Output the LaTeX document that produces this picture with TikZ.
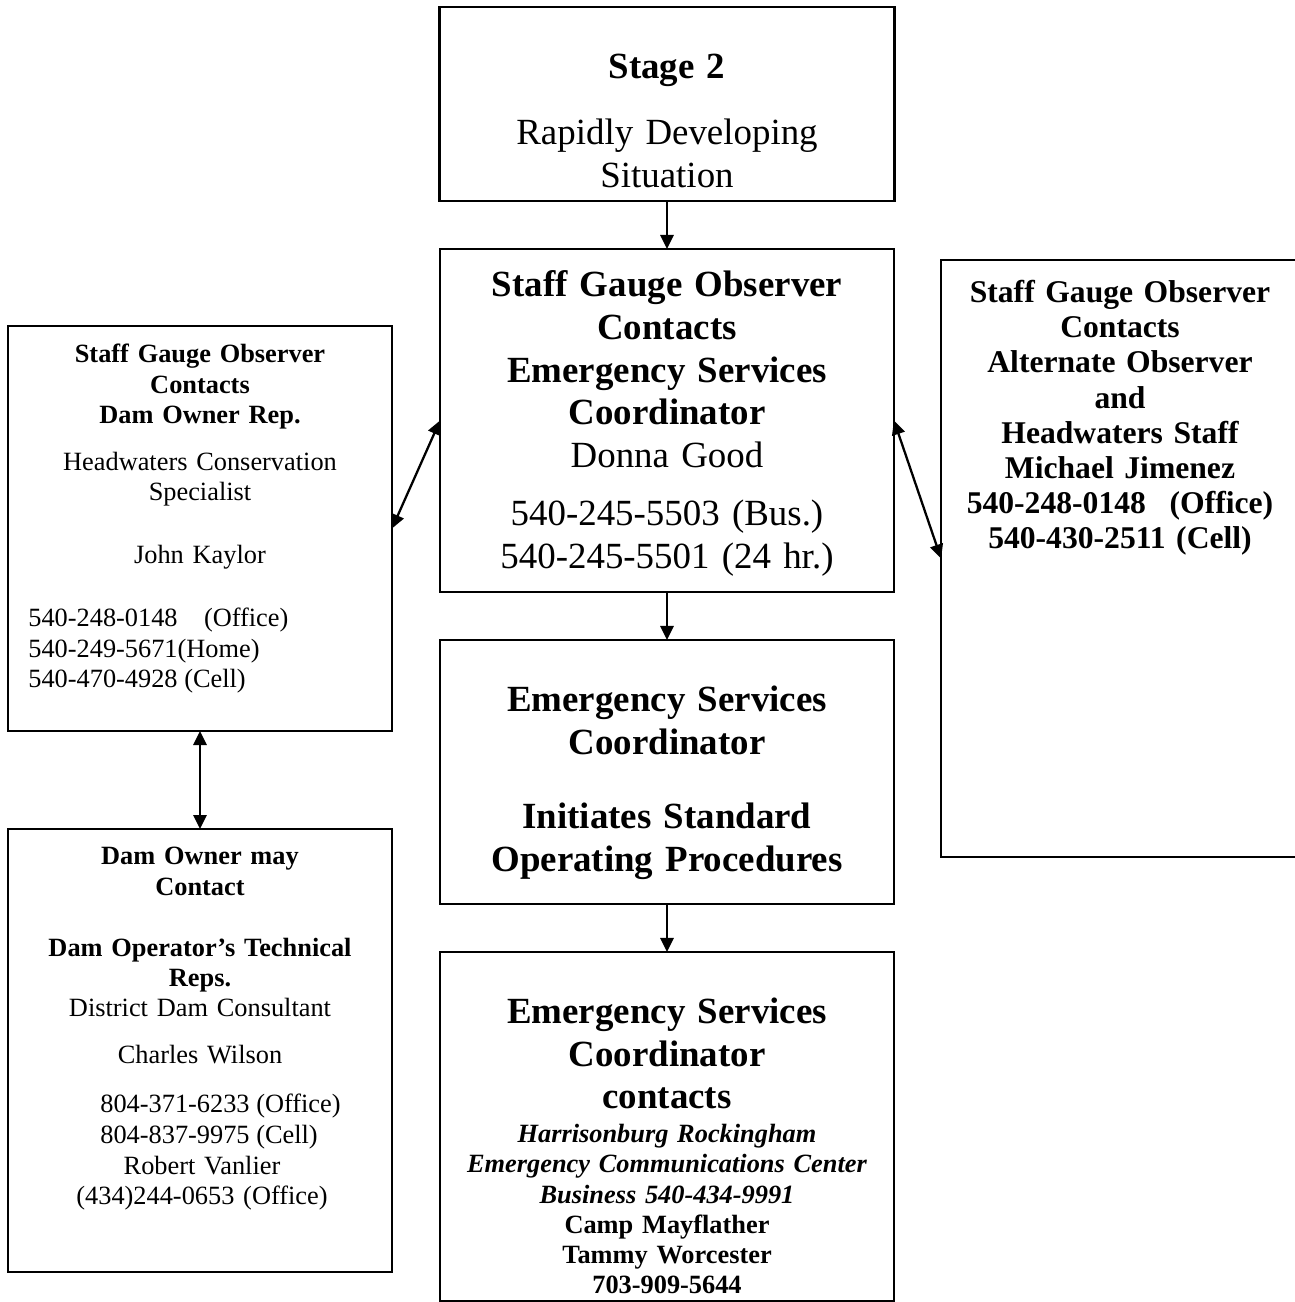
\documentclass[tikz,border=0pt]{standalone}
\usepackage{fontspec}
\setmainfont{Liberation Serif}
\usetikzlibrary{arrows.meta}

\begin{document}
\begin{tikzpicture}[x=0.02cm, y=-0.02cm]
  \tikzstyle{boite}=[draw, line width=1.4pt, inner sep=0pt, outer sep=0pt]
  \tikzstyle{grand}=[anchor=north, inner sep=0pt, align=center, text width=8.8cm,
  font=\fontsize{21}{24.4}\selectfont]
  \tikzstyle{petit}=[anchor=north, inner sep=0pt, align=center, text width=7.4cm,
  font=\fontsize{15}{17.2}\selectfont]
  \tikzstyle{fleche}=[-{Triangle[length=8pt,width=7.5pt]}, line width=1.3pt]
  \tikzstyle{dfleche}=[{Triangle[length=8pt,width=7.5pt]}-{Triangle[length=8pt,width=7.5pt]},
  line width=1.3pt]
  \useasboundingbox[fill=white] (0,0) rectangle (1295,1302);
  % les boites
  \node[boite, minimum width=9.10cm, minimum height=3.88cm] (stage) at (667,104) {};
  \node[boite, minimum width=9.08cm, minimum height=6.86cm] (sgo) at (667,420.5) {};
  \node[boite, minimum width=9.08cm, minimum height=5.28cm] (esc) at (667,772) {};
  \node[boite, minimum width=9.08cm, minimum height=6.98cm] (ecc) at (667,1126.5) {};
  \node[boite, minimum width=7.68cm, minimum height=8.10cm] (rep) at (200,528.5) {};
  \node[boite, minimum width=7.68cm, minimum height=8.86cm] (tech) at (200,1050.5) {};
  \node[boite, minimum width=7.16cm, minimum height=11.94cm] (alt) at (1120,558.5) {};
  % les textes
  \node[grand] (stage-t) at (667,54) {\bfseries Stage 2\\[13pt]
    \mdseries Rapidly Developing\\Situation};
  \node[grand] (sgo-t) at (667,270) {\bfseries Staff Gauge Observer\\Contacts\\
    Emergency Services\\Coordinator\\\mdseries Donna Good\\[8.5pt]
    540-245-5503 (Bus.)\\540-245-5501 (24 hr.)};
  \node[grand] (esc-t) at (667,686) {\bfseries Emergency Services\\Coordinator\\[17.5pt]
    Initiates Standard\\Operating Procedures};
  \node[grand, font=\fontsize{21}{24.1}\selectfont] (ecc-t) at (667,998)
    {\bfseries Emergency Services\\Coordinator\\contacts};
  \node[petit, text width=8.8cm] (ecc-l) at (667,1124) {\bfseries\itshape
    Harrisonburg Rockingham\\Emergency Communications Center\\Business 540-434-9991\\
    \upshape Camp Mayflather\\Tammy Worcester\\703-909-5644};
  \node[petit] (rep-t) at (200,344) {\bfseries Staff Gauge Observer\\Contacts\\
    Dam Owner Rep.\\[9.6pt]\mdseries Headwaters Conservation\\Specialist\\[18.7pt]
    John Kaylor};
  \node[petit, anchor=north west, align=left, text width=] (rep-n) at (28,608)
    {540-248-0148\quad(Office)\\540-249-5671(Home)\\540-470-4928 (Cell)};
  \node[petit] (tech-t) at (200,847) {\bfseries Dam Owner may\\Contact\\[17.6pt]
    Dam Operator’s Technical\\Reps.\\\mdseries District Dam Consultant\\[9.6pt]
    Charles Wilson};
  \node[petit, anchor=north west, align=left, text width=] (tech-n) at (100,1094)
    {804-371-6233 (Office)\\804-837-9975 (Cell)};
  \node[petit] (tech-v) at (202,1156) {Robert Vanlier\\(434)244-0653 (Office)};
  \node[petit, text width=6.8cm, font=\fontsize{18}{20}\selectfont] (alt-t) at (1120,280)
    {\bfseries Staff Gauge Observer\\Contacts\\Alternate Observer\\and\\
    Headwaters Staff\\Michael Jimenez\\540-248-0148\hspace{0.75em}(Office)\\
    540-430-2511 (Cell)};
  % les fleches
  \draw[fleche] (stage.south) -- (sgo.north);
  \draw[fleche] (sgo.south) -- (esc.north);
  \draw[fleche] (esc.south) -- (ecc.north);
  \draw[dfleche] (rep.east) -- (sgo.west);
  \draw[dfleche] (sgo.east) -- (alt.west);
  \draw[dfleche] (rep.south) -- (tech.north);
\end{tikzpicture}
\end{document}
